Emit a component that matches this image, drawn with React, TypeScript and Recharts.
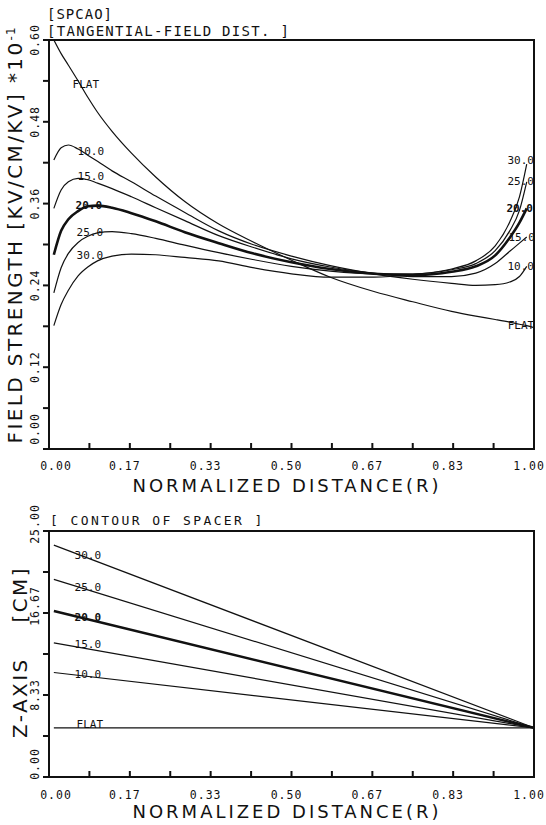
import React from 'react';
import { LineChart, Line, XAxis, YAxis, ReferenceArea, LabelList } from 'recharts';

// normalized distance (R) sample points for the tangential field curves
const dist = [0.01, 0.025, 0.04, 0.06, 0.08, 0.1, 0.13, 0.17, 0.22, 0.28, 0.35, 0.42, 0.5, 0.58, 0.67, 0.75, 0.83, 0.88, 0.92, 0.95, 0.97, 0.985, 1.0];

// field strength [kV/cm/kV] * 10^-1
const fieldFlat = [0.600, 0.580, 0.563, 0.540, 0.516, 0.494, 0.466, 0.434, 0.399, 0.363, 0.330, 0.304, 0.277, 0.252, 0.231, 0.216, 0.202, 0.195, 0.190, 0.186, 0.183, 0.181, 0.178];
const field10 = [0.424, 0.442, 0.446, 0.440, 0.431, 0.422, 0.408, 0.392, 0.371, 0.347, 0.320, 0.300, 0.283, 0.269, 0.257, 0.249, 0.243, 0.240, 0.241, 0.245, 0.253, 0.268, null];
const field15 = [0.353, 0.380, 0.392, 0.397, 0.395, 0.390, 0.382, 0.370, 0.354, 0.335, 0.313, 0.296, 0.279, 0.267, 0.258, 0.253, 0.253, 0.258, 0.272, 0.290, 0.302, 0.311, null];
const field20 = [0.285, 0.320, 0.337, 0.349, 0.356, 0.357, 0.354, 0.346, 0.334, 0.318, 0.302, 0.287, 0.274, 0.264, 0.257, 0.255, 0.260, 0.268, 0.284, 0.310, 0.332, 0.353, null];
const field25 = [0.229, 0.266, 0.287, 0.303, 0.312, 0.317, 0.319, 0.316, 0.309, 0.299, 0.288, 0.278, 0.268, 0.261, 0.257, 0.257, 0.263, 0.272, 0.291, 0.320, 0.350, 0.392, null];
const field30 = [0.181, 0.212, 0.233, 0.254, 0.267, 0.276, 0.283, 0.286, 0.285, 0.281, 0.276, 0.266, 0.257, 0.252, 0.252, 0.256, 0.264, 0.276, 0.298, 0.333, 0.370, 0.418, null];

// spacer contour, z-axis [cm]
const contourDist = [0.01, 1.0];
const contourFlat = [5.0, 5.0];
const contour10 = [10.62, 5.0];
const contour15 = [13.63, 5.0];
const contour20 = [16.86, 5.0];
const contour25 = [20.09, 5.0];
const contour30 = [23.57, 5.0];

const distTicks = [0, 0.0833, 0.1667, 0.25, 0.3333, 0.4167, 0.5, 0.5833, 0.6667, 0.75, 0.8333, 0.9167, 1];
const fieldTicks = [0, 0.06, 0.12, 0.18, 0.24, 0.3, 0.36, 0.42, 0.48, 0.54, 0.6];
const zTicks = [0, 4.1667, 8.3333, 12.5, 16.6667, 20.8333, 25];

const INK = '#111';
const MONO = '"DejaVu Sans Mono", monospace';
const SANS = '"DejaVu Sans", sans-serif';

const fieldRows = dist.map((d, i) => ({
  d, flat: fieldFlat[i], s10: field10[i], s15: field15[i], s20: field20[i], s25: field25[i], s30: field30[i],
}));
const contourRows = contourDist.map((d, i) => ({
  d, flat: contourFlat[i], s10: contour10[i], s15: contour15[i], s20: contour20[i], s25: contour25[i], s30: contour30[i],
}));

const isMajor = (v: number, step: number) => Math.abs(v / step - Math.round(v / step)) < 0.01;

const DistTick = (props: any) => {
  const { x, y, payload, gap } = props;
  const v = payload.value;
  if (!isMajor(v, 1 / 6)) return <g />;
  return (
    <text x={x + (v === 0 ? 7 : -5)} y={y + gap} textAnchor="middle" fontFamily={MONO} fontSize={11.5} letterSpacing={1} fill={INK}>
      {v.toFixed(2)}
    </text>
  );
};

const ValueTick = (props: any) => {
  const { x, y, payload, step, first } = props;
  const v = payload.value;
  if (!isMajor(v, step)) return <g />;
  const label = v.toFixed(2);
  const shift = v === 0 ? first : label.length > 4 ? -7 : 0;
  const tx = x - 8;
  const ty = y + shift;
  return (
    <text x={tx} y={ty} transform={`rotate(-90 ${tx} ${ty})`} textAnchor="middle" dominantBaseline="central"
      fontFamily={MONO} fontSize={11.5} letterSpacing={1} fill={INK}>
      {label}
    </text>
  );
};

const curveLabel = (text: string, at: number, dx: number, dy: number, bold: boolean) => (p: any) => {
  if (p.index !== at || p.x == null || p.y == null) return null;
  return (
    <text x={p.x + dx} y={p.y + dy} textAnchor="middle" dominantBaseline="central" fontFamily={MONO}
      fontSize={11} fontWeight={bold ? 'bold' : 'normal'} fill={INK} key={text + at}>
      {text}
    </text>
  );
};

const curves = [
  { key: 'flat', name: 'FLAT', w: 1.2, topL: [-2, -13], topR: [22, -13, -2], bot: [36, -3] },
  { key: 's10', name: '10.0', w: 1.2, topL: [3, -4], topR: [21, -6, 0], bot: [34, 2] },
  { key: 's15', name: '15.0', w: 1.2, topL: [3, -3], topR: [21, -5, 0], bot: [34, 2] },
  { key: 's20', name: '20.0', w: 2.6, topL: [1, -1], topR: [21, -7, 0], bot: [34, 6] },
  { key: 's25', name: '25.0', w: 1.2, topL: [2, -4], topR: [21, -6, 0], bot: [34, 8] },
  { key: 's30', name: '30.0', w: 1.2, topL: [2, -11], topR: [21, -6, -4], bot: [34, 10] },
];

const tickStroke = { stroke: INK, strokeWidth: 2 };
const title: React.CSSProperties = { position: 'absolute', whiteSpace: 'pre', color: INK, lineHeight: 1 };

export default function App() {
  return (
    <div style={{ position: 'absolute', left: 0, top: 0, width: 546, height: 825, background: '#fff', overflow: 'hidden' }}>
      <div style={{ ...title, left: 47, top: 7, fontFamily: MONO, fontSize: 14, letterSpacing: 1 }}>[SPCAO]</div>
      <div style={{ ...title, left: 47, top: 24, fontFamily: MONO, fontSize: 14, letterSpacing: 1.3 }}>[TANGENTIAL-FIELD DIST. ]</div>
      <div style={{ ...title, left: 15, top: 235, transform: 'translate(-50%,-50%) rotate(-90deg)', fontFamily: SANS, fontSize: 20, letterSpacing: 2.4 }}>
        FIELD STRENGTH [KV/CM/KV] *10<sup style={{ fontSize: 12, letterSpacing: 1 }}>-1</sup>
      </div>
      <div style={{ ...title, left: 287, top: 486, transform: 'translate(-50%,-50%)', fontFamily: SANS, fontSize: 18, letterSpacing: 3 }}>
        NORMALIZED DISTANCE(R)
      </div>

      <div style={{ position: 'absolute', left: 0, top: 0 }}>
        <LineChart width={546} height={500} data={fieldRows} margin={{ top: 40, right: 12, bottom: 0, left: 0 }}>
          <XAxis dataKey="d" type="number" domain={[0, 1]} ticks={distTicks} interval={0} height={51} tickSize={-6} tickMargin={6}
            tickLine={tickStroke} axisLine={false} allowDataOverflow tick={(p: any) => <DistTick {...p} gap={21} />} />
          <YAxis type="number" domain={[0, 0.6]} ticks={fieldTicks} interval={0} width={49} tickSize={6} tickMargin={0}
            tickLine={tickStroke} axisLine={false} allowDataOverflow tick={(p: any) => <ValueTick {...p} step={0.12} first={-20} />} />
          <ReferenceArea x1={0} x2={1} y1={0} y2={0.6} fill="#fff" fillOpacity={0} stroke={INK} strokeWidth={2} ifOverflow="visible" />
          {curves.map((c) => (
            <Line key={c.key} dataKey={c.key} type="monotone" stroke={INK} strokeWidth={c.w} dot={false} isAnimationActive={false}>
              <LabelList dataKey={c.key} content={curveLabel(c.name, 4, c.topL[0], c.topL[1], c.key === 's20')} />
              <LabelList dataKey={c.key} content={curveLabel(c.name, c.topR[0], c.topR[1], c.topR[2], c.key === 's20')} />
            </Line>
          ))}
        </LineChart>
      </div>

      <div style={{ ...title, left: 50, top: 514, fontFamily: MONO, fontSize: 13, letterSpacing: 2.4 }}>[ CONTOUR OF SPACER ]</div>
      <div style={{ ...title, left: 20, top: 652, transform: 'translate(-50%,-50%) rotate(-90deg)', fontFamily: SANS, fontSize: 20, letterSpacing: 2.4 }}>
        {'Z-AXIS    [CM]'}
      </div>
      <div style={{ ...title, left: 287, top: 812, transform: 'translate(-50%,-50%)', fontFamily: SANS, fontSize: 18, letterSpacing: 3 }}>
        NORMALIZED DISTANCE(R)
      </div>

      <div style={{ position: 'absolute', left: 0, top: 500 }}>
        <LineChart width={546} height={325} data={contourRows} margin={{ top: 31, right: 12, bottom: 0, left: 0 }}>
          <XAxis dataKey="d" type="number" domain={[0, 1]} ticks={distTicks} interval={0} height={48} tickSize={-6} tickMargin={6}
            tickLine={tickStroke} axisLine={false} allowDataOverflow tick={(p: any) => <DistTick {...p} gap={22} />} />
          <YAxis type="number" domain={[0, 25]} ticks={zTicks} interval={0} width={49} tickSize={6} tickMargin={0}
            tickLine={tickStroke} axisLine={false} allowDataOverflow tick={(p: any) => <ValueTick {...p} step={8.3333} first={-13} />} />
          <ReferenceArea x1={0} x2={1} y1={0} y2={25} fill="#fff" fillOpacity={0} stroke={INK} strokeWidth={2} ifOverflow="visible" />
          {curves.map((c) => (
            <Line key={c.key} dataKey={c.key} type="linear" stroke={INK} strokeWidth={c.w} dot={false} isAnimationActive={false}>
              <LabelList dataKey={c.key} content={curveLabel(c.name, 0, c.bot[0], c.bot[1], c.key === 's20')} />
            </Line>
          ))}
        </LineChart>
      </div>
    </div>
  );
}
